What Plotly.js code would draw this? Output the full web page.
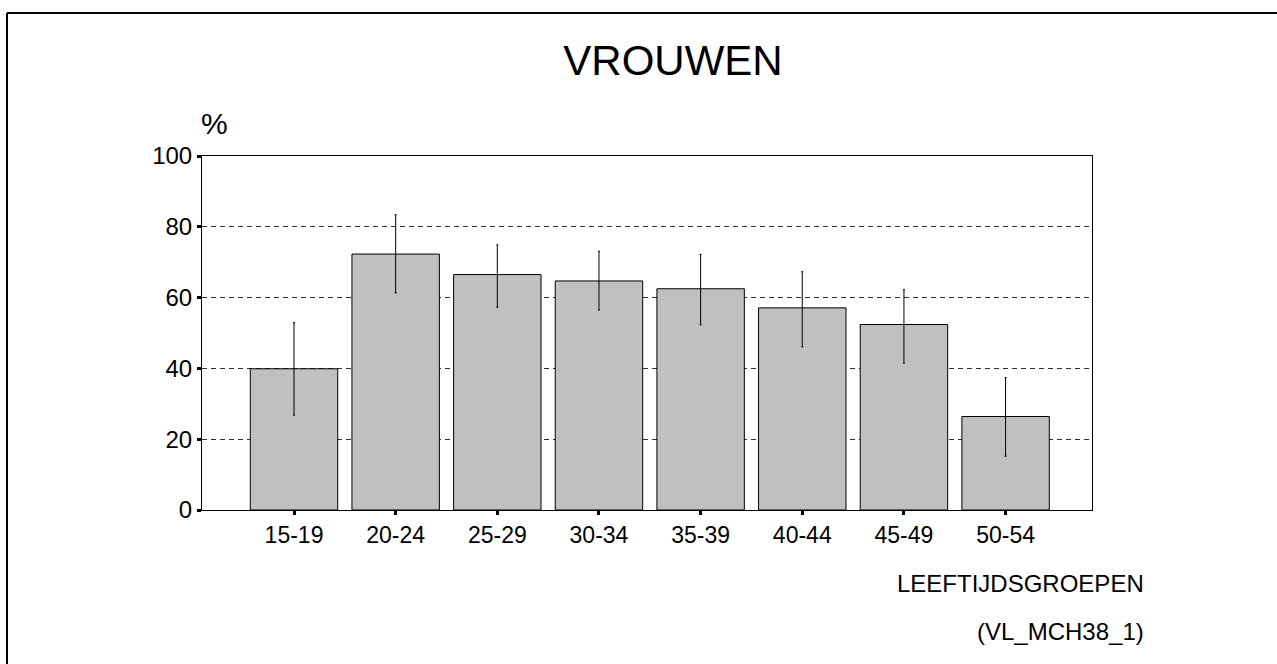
<!DOCTYPE html>
<html>
<head>
<meta charset="utf-8">
<script src="https://cdn.plot.ly/plotly-3.0.1.min.js"></script>
<style>
html,body{margin:0;padding:0;background:#fff;}
#chart{width:1277px;height:664px;}
</style>
</head>
<body>
<div id="chart"></div>
<script>
const categories = ["15-19","20-24","25-29","30-34","35-39","40-44","45-49","50-54"];
const percentages = [39.9, 72.3, 66.5, 64.7, 62.5, 57.1, 52.4, 26.4];
const errUpper = [13.0, 11.1, 8.4, 8.4, 9.7, 10.2, 9.8, 11.0];
const errLower = [13.1, 11.0, 9.2, 8.2, 10.2, 11.0, 10.9, 11.2];
const yTicks = [0, 20, 40, 60, 80, 100];

const font = "Liberation Sans, Arial, sans-serif";

const trace = {
  type: "bar",
  x: categories,
  y: percentages,
  width: 0.86,
  marker: {color: "#c0c0c0", line: {color: "#000", width: 1}},
  error_y: {
    type: "data",
    symmetric: false,
    array: errUpper,
    arrayminus: errLower,
    color: "#000",
    thickness: 1,
    width: 1
  },
  hoverinfo: "x+y"
};

const layout = {
  width: 1277,
  height: 664,
  margin: {l: 202, r: 185, t: 156, b: 154},
  paper_bgcolor: "#fff",
  plot_bgcolor: "#fff",
  showlegend: false,
  font: {family: font, color: "#000", size: 24},
  title: {
    text: "VROUWEN",
    font: {family: font, size: 42, color: "#000"},
    x: 0.527, xref: "container", xanchor: "center",
    y: 0.909, yref: "container", yanchor: "middle"
  },
  xaxis: {
    type: "category",
    range: [-0.905, 7.85],
    showline: true, linecolor: "#000", linewidth: 1, mirror: true,
    showgrid: false, zeroline: false,
    ticks: "outside", ticklen: 4, tickwidth: 3, tickcolor: "#000",
    tickfont: {family: font, size: 23, color: "#000"},
    fixedrange: true
  },
  yaxis: {
    range: [0, 100],
    tickvals: yTicks,
    ticktext: yTicks.map(String),
    showline: true, linecolor: "#000", linewidth: 1, mirror: true,
    showgrid: true, gridcolor: "#333", gridwidth: 1, griddash: "5px,4px",
    zeroline: false,
    ticks: "outside", ticklen: 4, tickwidth: 3, tickcolor: "#000",
    tickfont: {family: font, size: 24, color: "#000"},
    fixedrange: true
  },
  annotations: [
    {text: "%", xref: "paper", yref: "paper", x: 0.0146, y: 1.093,
     xanchor: "center", yanchor: "middle", showarrow: false,
     font: {family: font, size: 30, color: "#000"}},
    {text: "LEEFTIJDSGROEPEN", xref: "paper", yref: "paper", x: 1.0607, y: -0.209,
     xanchor: "right", yanchor: "middle", showarrow: false,
     font: {family: font, size: 24, color: "#000"}},
    {text: "(VL_MCH38_1)", xref: "paper", yref: "paper", x: 1.0607, y: -0.342,
     xanchor: "right", yanchor: "middle", showarrow: false,
     font: {family: font, size: 24, color: "#000"}}
  ],
  shapes: [
    {type: "line", xref: "paper", yref: "paper", x0: -0.2191, x1: 1.3, y0: 1.404, y1: 1.404,
     line: {color: "#000", width: 2}},
    {type: "line", xref: "paper", yref: "paper", x0: -0.2191, x1: -0.2191, y0: -0.6, y1: 1.404,
     line: {color: "#000", width: 2}}
  ]
};

Plotly.newPlot("chart", [trace], layout, {displayModeBar: false, staticPlot: true});
</script>
</body>
</html>
